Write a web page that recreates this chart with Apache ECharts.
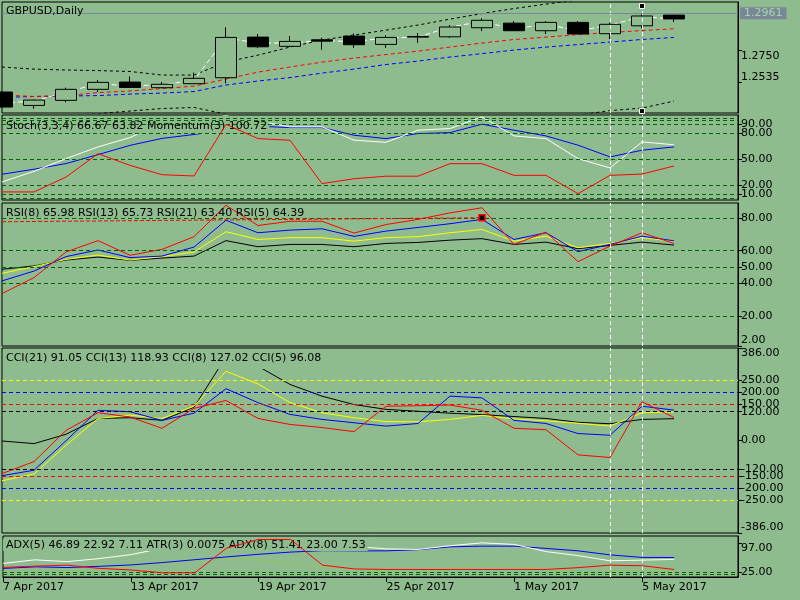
<!DOCTYPE html>
<html>
<head>
<meta charset="utf-8">
<script src="https://cdn.jsdelivr.net/npm/echarts@6.0.0/dist/echarts.min.js"></script>
<style>
html, body { margin: 0; padding: 0; background: #8fbc8f; }
#main { width: 800px; height: 600px; }
</style>
</head>
<body>
<div id="main"></div>
<script>
// bars: 7 Apr .. 8 May 2017, plus two empty slots on the right
var dates = ['7 Apr 2017', '10 Apr 2017', '11 Apr 2017', '12 Apr 2017', '13 Apr 2017', '14 Apr 2017',
    '17 Apr 2017', '18 Apr 2017', '19 Apr 2017', '20 Apr 2017', '21 Apr 2017', '24 Apr 2017',
    '25 Apr 2017', '26 Apr 2017', '27 Apr 2017', '28 Apr 2017', '1 May 2017', '2 May 2017',
    '3 May 2017', '4 May 2017', '5 May 2017', '8 May 2017', '9 May 2017', '10 May 2017'];

var opens  = [1.2470, 1.2380, 1.2414, 1.2488, 1.2537, 1.2499, 1.2526, 1.2566, 1.2839, 1.2777, 1.2821,
    1.2846, 1.2790, 1.2843, 1.2841, 1.2902, 1.2933, 1.2882, 1.2938, 1.2862, 1.2915, 1.2987];
var closes = [1.2369, 1.2416, 1.2488, 1.2535, 1.2501, 1.2522, 1.2562, 1.2837, 1.2774, 1.2810, 1.2812,
    1.2788, 1.2837, 1.2839, 1.2907, 1.2952, 1.2882, 1.2938, 1.2860, 1.2925, 1.2981, 1.2961];
var lows   = [1.2362, 1.2358, 1.2401, 1.2470, 1.2497, 1.2495, 1.2524, 1.2528, 1.2765, 1.2772, 1.2754,
    1.2767, 1.2767, 1.2801, 1.2835, 1.2880, 1.2880, 1.2860, 1.2858, 1.2826, 1.2898, 1.2940];
var highs  = [1.2477, 1.2418, 1.2499, 1.2550, 1.2575, 1.2537, 1.2600, 1.2905, 1.2860, 1.2846, 1.2835,
    1.2864, 1.2851, 1.2866, 1.2920, 1.2965, 1.2947, 1.2947, 1.2947, 1.2936, 1.2992, 1.2988];
var bidPrice = 1.2961;

var maWhite = [1.2396, 1.2409, 1.2470, 1.2524, 1.2513, 1.2517, 1.2550, 1.2833, 1.2799, 1.2799, 1.2816,
    1.2809, 1.2833, 1.2839, 1.2907, 1.2944, 1.2893, 1.2927, 1.2880, 1.2920, 1.2977, 1.2960];
var maRed = [1.2450, 1.2440, 1.2446, 1.2466, 1.2477, 1.2493, 1.2510, 1.2557, 1.2604, 1.2638, 1.2671,
    1.2698, 1.2722, 1.2745, 1.2772, 1.2799, 1.2823, 1.2839, 1.2856, 1.2870, 1.2883, 1.2895];
var maBlue = [1.2433, 1.2440, 1.2443, 1.2446, 1.2456, 1.2463, 1.2473, 1.2517, 1.2544, 1.2567, 1.2597,
    1.2624, 1.2655, 1.2678, 1.2705, 1.2728, 1.2752, 1.2772, 1.2789, 1.2806, 1.2823, 1.2837];
var bandUpper = [1.2638, 1.2624, 1.2618, 1.2614, 1.2608, 1.2584, 1.2584, 1.2671, 1.2718, 1.2772, 1.2819,
    1.2853, 1.2886, 1.2920, 1.2960, 1.2997, 1.3031, 1.3061, 1.3088, 1.3115, 1.3135, 1.3155];
var bandLower = [1.2295, 1.2302, 1.2312, 1.2325, 1.2342, 1.2359, 1.2366, 1.2322, 1.2275, 1.2228, 1.2188,
    1.2161, 1.2147, 1.2147, 1.2161, 1.2194, 1.2235, 1.2282, 1.2315, 1.2345, 1.2362, 1.2409];

var stochMain = [23.8, 36.0, 50.7, 64.2, 75, 92, 96, 100, 94, 87.3, 87.3, 72, 69.5, 83.5, 85.4, 98.8,
    76.9, 73.8, 50.7, 40, 70, 66.7];
var stochSignal = [32.7, 38.5, 45, 55.3, 66, 74, 78.5, 84, 88, 86.5, 86.5, 77.7, 73.8, 79.6, 80.7, 90.4,
    83.5, 76.9, 66.2, 52.7, 60.4, 64.2];
var momentum = [99.50, 99.50, 100.20, 101.30, 100.75, 100.31, 100.25, 102.68, 102.01, 101.93, 99.89,
    100.12, 100.24, 100.24, 100.83, 100.83, 100.28, 100.28, 99.42, 100.28, 100.34, 100.72];

var rsi5 = [33.9, 43.6, 59.2, 66.1, 57.2, 60.8, 68.5, 87.6, 75.3, 77.9, 77.9, 70.7, 75.9, 79, 83, 86.1,
    63.8, 71.3, 53.3, 62.8, 70.9, 64.4];
var rsi8 = [41.6, 47.6, 56.4, 60.4, 55.8, 56.7, 62.2, 78.5, 70.9, 72.5, 73.3, 68.7, 71.9, 74.1, 76.4, 79,
    66.8, 70.9, 59.4, 63.8, 68.8, 66.0];
var rsi13 = [46.2, 50.3, 54.7, 57.3, 54.3, 56.4, 59.2, 71.5, 66.8, 67.9, 67.9, 65.8, 67.9, 68.5, 70.9, 72.9,
    65.8, 68.8, 61.8, 64.4, 67.9, 65.7];
var rsi21 = [48.7, 50.7, 54.3, 56.1, 54.1, 55.5, 56.7, 66.1, 62.4, 63.8, 63.8, 62.4, 64.4, 65, 66.4, 67.3,
    63.8, 65.2, 61.2, 63.2, 65.2, 63.4];

var cci21 = [-2, -13, 26, 92, 95, 84, 139, 349, 310, 234, 185, 150, 130, 122, 114, 108, 100, 92, 76, 70, 88, 91];
var cci13 = [-168, -140, -20, 92, 106, 92, 143, 289, 236, 158, 116, 95, 79, 78, 88, 105, 90, 82, 72, 60, 116, 119];
var cci8 = [-147, -124, -1, 126, 120, 84, 114, 216, 158, 109, 88, 74, 60, 71, 185, 178, 84, 71, 29, 22, 143, 127];
var cci5 = [-138, -88, 42, 116, 98, 51, 134, 167, 92, 67, 54, 37, 143, 145, 148, 126, 51, 45, -60, -71, 162, 96];

var adxWhite = [45.8, 54.7, 50.2, 57.7, 67.6, 84, 92, 98, 100, 98, 94, 88, 82, 80.5, 90, 97, 93, 75.1, 65.2,
    52.2, 54, 55.7];
var adxBlue = [33.3, 37.3, 35.5, 38.5, 42, 48, 55, 62, 68.5, 74, 77.5, 77, 77, 80, 87, 88.7, 88.7,
    83.1, 77.1, 67, 60.7, 60.7];
var adxRed = [35.8, 39, 41.5, 33.5, 29.5, 22.4, 22.4, 84, 105.4, 105.4, 41.5, 32, 30.8, 30.8, 30.8, 30.8,
    30.8, 30.8, 35.3, 41.5, 40, 30.8];
var adxDash = [25, 23, 24, 33, 40, 46, 54, 59, 55, 45, 39, 32, 25, 22, 35, 45.8, 40, 30, 22.4, 26, 30.8, 25];

// axis labels and level lines
var mainTicks = [1.2535, 1.2750];
var stochTicks = [5, 10, 20, 50, 80, 90, 95];
var stochLevels = [5, 10, 20, 50, 80, 90, 95, 97.5];
var rsiTicks = [2, 20, 40, 50, 60, 80, 89];
var rsiLevels = [20, 40, 50, 60, 80];
var cciTicks = [-386, -250, -200, -150, -120, 0, 120, 150, 200, 250, 386];
var cciLevels = [[120, '#000000'], [150, '#ff0000'], [200, '#0000ff'], [250, '#ffff00']];
var adxTicks = [20, 25, 97];
var adxLevels = [20, 25];

var bg = '#8fbc8f';
var font = 'DejaVu Sans';
var myChart = echarts.init(document.getElementById('main'));

var candles = opens.map(function (o, i) {
    return [o, closes[i], lows[i], highs[i]];
});

function levelItems(list, color) {
    return list.map(function (v) {
        return { yAxis: v, lineStyle: { color: color, type: [4, 3], width: 1 } };
    });
}

var vLines = [
    { xAxis: dates[19], lineStyle: { color: '#ffffff', type: [4, 3], width: 1 } },
    { xAxis: dates[20], lineStyle: { color: '#ffffff', type: [4, 3], width: 1 } }
];

function markLines(items) {
    return {
        symbol: ['none', 'none'],
        silent: true,
        animation: false,
        label: { show: false },
        data: items
    };
}

function line(xi, yi, data, color, dash, z) {
    return {
        type: 'line',
        xAxisIndex: xi,
        yAxisIndex: yi,
        data: data,
        symbol: 'none',
        silent: true,
        z: z || 2,
        lineStyle: { color: color, width: 1, type: dash || 'solid' }
    };
}

function xAx(i, labels) {
    return {
        type: 'category',
        gridIndex: i,
        data: dates,
        boundaryGap: false,
        axisLine: { show: labels, lineStyle: { color: '#000' } },
        axisTick: { show: labels, interval: 3, length: 5, lineStyle: { color: '#000' } },
        axisLabel: { show: labels, interval: 3, align: 'left', margin: 5, color: '#000', fontFamily: font, fontSize: 11 },
        splitLine: { show: false }
    };
}

function yAx(i, min, max, ticks, digits) {
    return {
        type: 'value',
        gridIndex: i,
        position: 'right',
        min: min,
        max: max,
        axisLine: { show: true, lineStyle: { color: '#000' } },
        axisTick: { show: true, customValues: ticks, length: 4, lineStyle: { color: '#000' } },
        axisLabel: {
            customValues: ticks,
            color: '#000',
            fontFamily: font,
            fontSize: 11,
            margin: 3,
            verticalAlignMinLabel: 'bottom',
            verticalAlignMaxLabel: 'top',
            formatter: function (v) { return v.toFixed(digits); }
        },
        splitLine: { show: false }
    };
}

var titleText = { color: '#000', fontFamily: font, fontSize: 11, fontWeight: 'normal', lineHeight: 13 };

function gridBox(top, height) {
    return { left: 2, right: 62, top: top, height: height, show: true, borderColor: '#000', borderWidth: 1, backgroundColor: 'transparent' };
}

var option = {
    animation: false,
    backgroundColor: bg,
    textStyle: { fontFamily: font },
    title: [
        { text: 'GBPUSD,Daily', left: 3, top: 3, padding: [2, 2, 2, 3], textStyle: titleText, z: 5 },
        { text: 'Stoch(3,3,4) 66.67 63.82 Momentum(3) 100.72', left: 3, top: 116, padding: [4, 2, 1, 3],
            backgroundColor: bg, textStyle: titleText, z: 5 },
        { text: 'RSI(8) 65.98 RSI(13) 65.73 RSI(21) 63.40 RSI(5) 64.39', left: 3, top: 204, padding: [3, 2, 2, 3],
            textStyle: titleText, z: 5 },
        { text: 'CCI(21) 91.05 CCI(13) 118.93 CCI(8) 127.02 CCI(5) 96.08', left: 3, top: 349, padding: [3, 2, 4, 3],
            backgroundColor: bg, textStyle: titleText, z: 5 },
        { text: 'ADX(5) 46.89 22.92 7.11 ATR(3) 0.0075 ADX(8) 51.41 23.00 7.53', left: 3, top: 539, padding: [1, 2, 0, 3],
            backgroundColor: bg, textStyle: Object.assign({}, titleText, { lineHeight: 11 }), z: 5 }
    ],
    grid: [
        gridBox(2, 111),
        gridBox(115, 85),
        gridBox(203, 143),
        gridBox(348, 185),
        gridBox(536, 41)
    ],
    xAxis: [xAx(0, false), xAx(1, false), xAx(2, false), xAx(3, false), xAx(4, true)],
    yAxis: [
        yAx(0, 1.2329, 1.3075, mainTicks, 4),
        yAx(1, 3, 101, stochTicks, 2),
        { type: 'value', gridIndex: 1, min: 99.12, max: 103.12, show: false, splitLine: { show: false } },
        yAx(2, 2, 89, rsiTicks, 2),
        yAx(3, -386, 386, cciTicks, 2),
        yAx(4, 12, 114, adxTicks, 2)
    ],
    series: [
        {
            type: 'candlestick',
            xAxisIndex: 0,
            yAxisIndex: 0,
            data: candles,
            barWidth: 22,
            silent: true,
            itemStyle: {
                color: bg,
                color0: '#000000',
                borderColor: '#000000',
                borderColor0: '#000000',
                borderWidth: 1
            },
            markLine: markLines(vLines.concat([{
                yAxis: bidPrice,
                lineStyle: { color: '#778899', type: 'solid', width: 1 },
                label: {
                    show: true,
                    position: 'end',
                    distance: 2,
                    formatter: bidPrice.toFixed(4),
                    backgroundColor: '#778899',
                    color: '#a8d4a8',
                    fontFamily: font,
                    fontSize: 11,
                    padding: [1, 4, 0, 4]
                }
            }])),
            markPoint: {
                symbol: 'rect',
                symbolSize: 5,
                silent: true,
                label: { show: false },
                itemStyle: { color: '#000000', borderColor: '#ffffff', borderWidth: 1 },
                data: [{ coord: [dates[20], 1.3048] }, { coord: [dates[20], 1.2342] }]
            }
        },
        line(0, 0, bandUpper, '#000000', [3, 3]),
        line(0, 0, bandLower, '#000000', [3, 3]),
        line(0, 0, maBlue, '#0000ff', [4, 3]),
        line(0, 0, maRed, '#ff0000', [4, 3]),
        line(0, 0, maWhite, '#ffffff', [5, 3]),

        Object.assign(line(1, 1, stochSignal, '#0000ff'), {
            markLine: markLines(levelItems(stochLevels, '#006400').concat(vLines))
        }),
        line(1, 1, stochMain, '#ffffff'),
        line(1, 2, momentum, '#ff0000', 'solid', 8),

        Object.assign(line(2, 3, rsi21, '#000000'), {
            markLine: markLines(levelItems(rsiLevels, '#006400').concat(vLines).concat([[
                { coord: [dates[0], 77.6], lineStyle: { color: '#ff0000', type: [4, 2], width: 1 } },
                { coord: [dates[15], 80], lineStyle: { color: '#ff0000', type: [4, 2], width: 1 } }
            ]]))
        }),
        line(2, 3, rsi13, '#ffff00'),
        line(2, 3, rsi8, '#0000ff'),
        Object.assign(line(2, 3, rsi5, '#ff0000'), {
            markPoint: {
                symbol: 'rect',
                symbolSize: 6,
                silent: true,
                label: { show: false },
                itemStyle: { color: '#000000', borderColor: '#ff0000', borderWidth: 1.5 },
                data: [{ coord: [dates[15], 80] }]
            }
        }),

        Object.assign(line(3, 4, cci21, '#000000'), {
            markLine: markLines([].concat.apply([], cciLevels.map(function (l) {
                return levelItems([l[0], -l[0]], l[1]);
            })).concat(vLines))
        }),
        line(3, 4, cci13, '#ffff00'),
        line(3, 4, cci8, '#0000ff'),
        line(3, 4, cci5, '#ff0000'),

        Object.assign(line(4, 5, adxDash, '#9acd32', [3, 3]), {
            markLine: markLines(levelItems(adxLevels, '#006400').concat(vLines))
        }),
        line(4, 5, adxBlue, '#0000ff'),
        line(4, 5, adxWhite, '#ffffff'),
        line(4, 5, adxRed, '#ff0000', 'solid', 8)
    ]
};

myChart.setOption(option);
</script>
</body>
</html>
